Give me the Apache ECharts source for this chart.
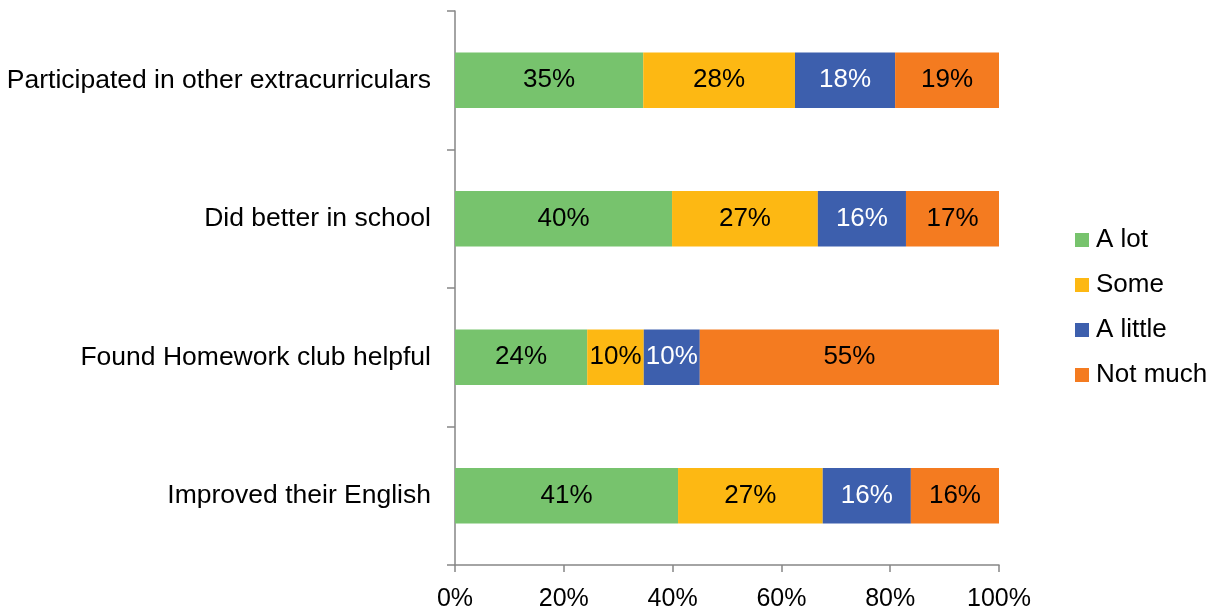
<!DOCTYPE html>
<html>
<head>
<meta charset="utf-8">
<script src="https://cdn.jsdelivr.net/npm/echarts@6/dist/echarts.min.js"></script>
<style>
	html, body { margin: 0; padding: 0; background: #fff; }
	#chart { width: 1217px; height: 612px; }
</style>
</head>
<body>
<div id="chart"></div>
<script type="text/javascript">
	// categories top to bottom
	var categories = ['Participated in other extracurriculars', 'Did better in school', 'Found Homework club helpful', 'Improved their English'];
	var aLot = [34.6, 39.9, 24.3, 41.0];
	var some = [27.9, 26.8, 10.4, 26.6];
	var aLittle = [18.4, 16.2, 10.3, 16.2];
	var notMuch = [19.1, 17.1, 55.0, 16.2];
	var xTicks = ['0%', '20%', '40%', '60%', '80%', '100%'];

	var font = 'Liberation Sans, Arial, sans-serif';

	function bar(name, data, color, textColor) {
		return {
			name: name,
			type: 'bar',
			stack: 'total',
			barWidth: '40%',
			data: data,
			itemStyle: { color: color },
			label: {
				show: true,
				position: 'inside',
				color: textColor,
				fontFamily: font,
				fontSize: 26,
				formatter: function (p) { return Math.round(p.value) + '%'; }
			}
		};
	}

	var myChart = echarts.init(document.getElementById('chart'));
	var option = {
		animation: false,
		grid: { left: 455, right: 218, top: 11, bottom: 45 },
		legend: {
			orient: 'vertical',
			left: 1070,
			top: 222,
			itemWidth: 14,
			itemHeight: 14,
			itemGap: 19,
			icon: 'rect',
			textStyle: { fontFamily: font, fontSize: 26, color: '#000', padding: [0, 0, 0, 2] },
			data: ['A lot', 'Some', 'A little', 'Not much']
		},
		xAxis: {
			type: 'value',
			min: 0,
			max: 100,
			interval: 20,
			splitLine: { show: false },
			axisLine: { show: true, lineStyle: { color: '#868686', width: 1.5 } },
			axisTick: { show: true, length: 7, lineStyle: { color: '#868686', width: 1.5 } },
			axisLabel: {
				fontFamily: font, fontSize: 25, color: '#000', margin: 22,
				formatter: function (v) { return xTicks[v / 20]; }
			}
		},
		yAxis: {
			type: 'category',
			inverse: true,
			data: categories,
			axisLine: { show: true, lineStyle: { color: '#868686', width: 1.5 } },
			axisTick: { show: true, length: 8, lineStyle: { color: '#868686', width: 1.5 } },
			axisLabel: { fontFamily: font, fontSize: 26.5, color: '#000', margin: 24 }
		},
		series: [
			bar('A lot', aLot, '#77C36D', '#000'),
			bar('Some', some, '#FDB813', '#000'),
			bar('A little', aLittle, '#3D5FAD', '#fff'),
			bar('Not much', notMuch, '#F47B20', '#000')
		]
	};
	myChart.setOption(option);
</script>
</body>
</html>
